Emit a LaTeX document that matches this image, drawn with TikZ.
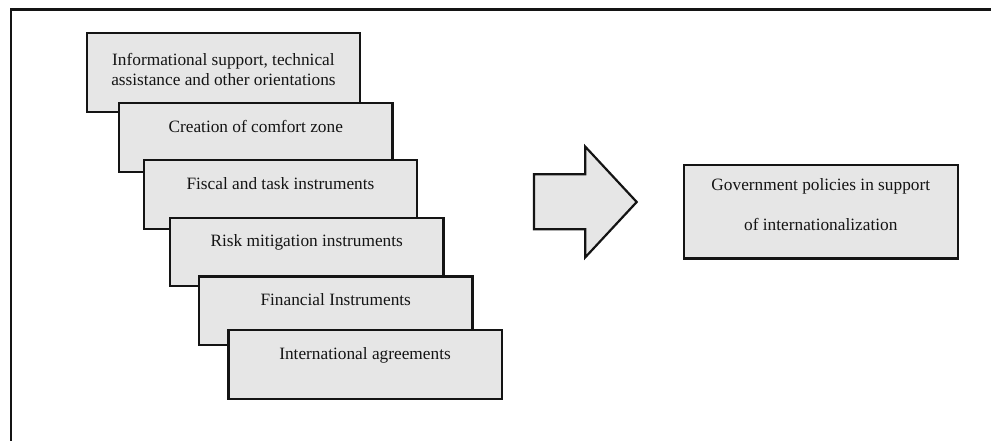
\documentclass[tikz,border=0pt]{standalone}
\usepackage{fontspec}
\setmainfont{Liberation Serif}
\usetikzlibrary{calc}
\definecolor{boxfill}{RGB}{230,230,230}
\definecolor{inkc}{RGB}{20,20,20}
\begin{document}
\begin{tikzpicture}[x=1pt,y=-1pt,
  stepbox/.style={draw=inkc,line width=2.2pt,fill=boxfill,rectangle,inner sep=0pt},
  lbl/.style={font=\fontsize{17.3}{20}\selectfont,text=inkc,anchor=base,inner sep=0pt},
  frameline/.style={draw=inkc,line width=2.2pt}]
\useasboundingbox (0,0) rectangle (991,441);
\fill[white] (0,0) rectangle (991,441);
\draw[frameline] (10.7,441) -- (10.7,9.5) -- (991,9.5);
% stacked boxes
\node[stepbox,minimum width=273.3pt,minimum height=78.7pt,anchor=north west] (b1) at (85.7,32) {};
\node[lbl] (t1a) at ($(b1.north)+(0,34)$) {Informational support, technical};
\node[lbl] (t1b) at ($(b1.north)+(0,54)$) {assistance and other orientations};
\node[stepbox,minimum width=273.3pt,minimum height=68.7pt,anchor=north west] (b2) at (118,102.3) {};
\node[lbl] (t2) at ($(b2.north)+(0,30)$) {Creation of comfort zone};
\node[stepbox,minimum width=273.3pt,minimum height=68.7pt,anchor=north west] (b3) at (142.7,159.3) {};
\node[lbl] (t3) at ($(b3.north)+(0,30)$) {Fiscal and task instruments};
\node[stepbox,minimum width=273.3pt,minimum height=68.3pt,anchor=north west] (b4) at (169,216.7) {};
\node[lbl] (t4) at ($(b4.north)+(0,30)$) {Risk mitigation instruments};
\node[stepbox,minimum width=273.3pt,minimum height=68.4pt,anchor=north west] (b5) at (198,275.3) {};
\node[lbl] (t5) at ($(b5.north)+(0,30)$) {Financial Instruments};
\node[stepbox,minimum width=273.3pt,minimum height=68.7pt,anchor=north west] (b6) at (227.3,329) {};
\node[lbl] (t6) at ($(b6.north)+(0,30)$) {International agreements};
% block arrow
\draw[draw=inkc,line width=2.2pt,fill=boxfill,line join=miter]
  (534,174.3) -- (585.3,174.3) -- (585.3,146.7) -- (636.7,202) -- (585.3,257.3)
  -- (585.3,229.3) -- (534,229.3) -- cycle;
% result box
\node[stepbox,minimum width=274pt,minimum height=93.6pt,anchor=north west] (res) at (682.7,163.7) {};
\node[lbl] (r1) at ($(res.north)+(0,26.3)$) {Government policies in support};
\node[lbl] (r2) at ($(res.north)+(0,66.3)$) {of internationalization};
\end{tikzpicture}
\end{document}
